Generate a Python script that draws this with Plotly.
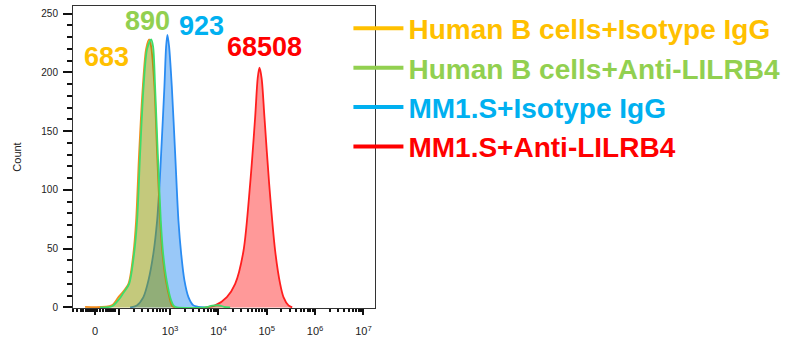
import plotly.graph_objects as go

# ---------------- data (x in display units of the biexponential axis: 3 = 10^3) ----------------
series_names = [
    "Human B cells+Isotype IgG",
    "Human B cells+Anti-LILRB4",
    "MM1.S+Isotype IgG",
    "MM1.S+Anti-LILRB4",
]
mfi_labels = ["683", "890", "923", "68508"]

b_iso_x = [1.240, 1.793, 1.930, 2.000, 2.137, 2.240, 2.296, 2.358, 2.435, 2.503, 2.565,
           2.607, 2.675, 2.731, 2.793, 2.841, 2.911, 3.000, 3.041, 3.104]
b_iso_y = [0.5, 1.7, 8.8, 12, 20, 46, 74, 131, 188, 220, 228,
           222, 188, 131, 74, 46, 23, 6, 1, 0]

b_anti_x = [1.551, 1.799, 1.944, 2.027, 2.151, 2.255, 2.317, 2.379, 2.451, 2.524, 2.607,
            2.648, 2.689, 2.745, 2.807, 2.855, 2.928, 3.021, 3.083, 3.145,
            3.725, 3.870, 3.994, 4.118, 4.242]
b_anti_y = [0, 1, 7, 12, 20, 46, 74, 131, 188, 220, 228,
            222, 188, 131, 74, 46, 23, 6, 1, 0,
            0, 1.5, 2, 0.5, 0]

mm_iso_x = [2.172, 2.311, 2.447, 2.551, 2.654, 2.731, 2.778, 2.814, 2.882, 2.917, 2.944,
            2.979, 3.035, 3.104, 3.172, 3.228, 3.296, 3.379, 3.482, 3.580, 3.725]
mm_iso_y = [0, 1.7, 8.8, 23, 46, 74, 103, 131, 188, 222, 232,
            222, 188, 131, 74, 46, 23, 8.8, 1.7, 0.5, 0]

mm_anti_x = [3.725, 3.932, 4.174, 4.346, 4.518, 4.656, 4.760, 4.812, 4.849,
             4.894, 4.952, 5.050, 5.174, 5.277, 5.346, 5.449, 5.526]
mm_anti_y = [0, 1.7, 8.8, 20, 48, 105, 162, 195, 204,
             195, 162, 105, 48, 20, 8.8, 1.7, 0]

x_tick_pos = [1.447, 1.95, 3, 4, 5, 6, 7]
x_tick_text = ["0", " ", "10<sup>3</sup>", "10<sup>4</sup>", "10<sup>5</sup>",
               "10<sup>6</sup>", "10<sup>7</sup>"]
x_minor_pos = [0.998, 1.081, 1.157, 1.205, 1.255, 1.282, 1.313, 1.344, 1.375, 1.406,
               1.482, 1.551, 1.619, 1.675, 1.723, 1.758, 1.793, 1.826, 1.861,
               2.25, 2.42, 2.55, 2.65, 2.73, 2.80, 2.86, 2.92,
               3.301, 3.477, 3.602, 3.699, 3.778, 3.845, 3.903, 3.954,
               4.301, 4.477, 4.602, 4.699, 4.778, 4.845, 4.903, 4.954,
               5.301, 5.477, 5.602, 5.699, 5.778, 5.845, 5.903, 5.954,
               6.301, 6.477, 6.602, 6.699, 6.778, 6.845, 6.903, 6.954]
y_tick_pos = [0, 50, 100, 150, 200, 250]

# ---------------- styling ----------------
FONT = "Arial, Liberation Sans, sans-serif"
legend_colors = ["#FFC000", "#92D050", "#00B0F0", "#FF0000"]
line_colors = ["#F28C1C", "#3EDD6A", "#2A8CF2", "#FF1E1E"]
fill_colors = ["rgba(255,165,0,0.30)", "rgba(60,140,0,0.30)",
               "rgba(0,117,237,0.40)", "rgba(255,0,0,0.40)"]
label_x = [1.675, 2.524, 3.642, 4.946]
label_y = [213, 243.5, 239.5, 222]

xs = [b_iso_x, b_anti_x, mm_iso_x, mm_anti_x]
ys = [b_iso_y, b_anti_y, mm_iso_y, mm_anti_y]

fig = go.Figure()
# draw order: red, blue, orange, green
for i in [3, 2, 0, 1]:
    fig.add_trace(go.Scatter(
        x=xs[i], y=ys[i], mode="lines", line=dict(color=line_colors[i], width=1.8, shape="spline", smoothing=0.8),
        fill="tozeroy", fillcolor=fill_colors[i], showlegend=False, hoverinfo="skip"))

for i in range(4):
    fig.add_trace(go.Scatter(
        x=[None], y=[None], mode="lines", line=dict(color=legend_colors[i], width=4),
        name=f"<span style='color:{legend_colors[i]}'><b>{series_names[i]}</b></span>",
        showlegend=True))

for i in range(4):
    fig.add_annotation(x=label_x[i], y=label_y[i], text=f"<b>{mfi_labels[i]}</b>", showarrow=False,
                       font=dict(family=FONT, size=27, color=legend_colors[i]),
                       xanchor="center", yanchor="middle")

fig.update_layout(
    width=785, height=340,
    margin=dict(l=73, r=410, t=6, b=32, autoexpand=False),
    paper_bgcolor="white", plot_bgcolor="white",
    font=dict(family=FONT, color="#222"),
    showlegend=True,
    legend=dict(x=0.912, y=1.008, xanchor="left", yanchor="top",
                font=dict(family=FONT, size=28), bgcolor="rgba(0,0,0,0)",
                itemwidth=50, tracegroupgap=0),
    xaxis=dict(range=[0.99, 7.24], tickvals=x_tick_pos, ticktext=x_tick_text,
               automargin=False,
               ticks="outside", ticklen=6, tickwidth=2, tickcolor="#111",
               showline=True, linecolor="#333", linewidth=1, mirror=True,
               showgrid=False, zeroline=False,
               tickfont=dict(family=FONT, size=11, color="#222"),
               ticklabelstandoff=7,
               minor=dict(tickvals=x_minor_pos, ticks="outside", ticklen=3, tickwidth=1.5, tickcolor="#111")),
    yaxis=dict(range=[-0.5, 256.5], tickvals=y_tick_pos,
               automargin=False,
               ticks="outside", ticklen=9, tickwidth=2, tickcolor="#111",
               showline=True, linecolor="#333", linewidth=1, mirror=True,
               showgrid=False, zeroline=False,
               tickfont=dict(family=FONT, size=10, color="#222"),
               ticklabelstandoff=3,
               title=dict(text="Count", font=dict(family=FONT, size=11, color="#222"), standoff=17),
               minor=dict(dtick=10, ticks="outside", ticklen=5, tickwidth=1.5, tickcolor="#111")),
)

fig.write_html("out.html", config={"displayModeBar": False},
               post_script="document.body.style.margin='0px';")
